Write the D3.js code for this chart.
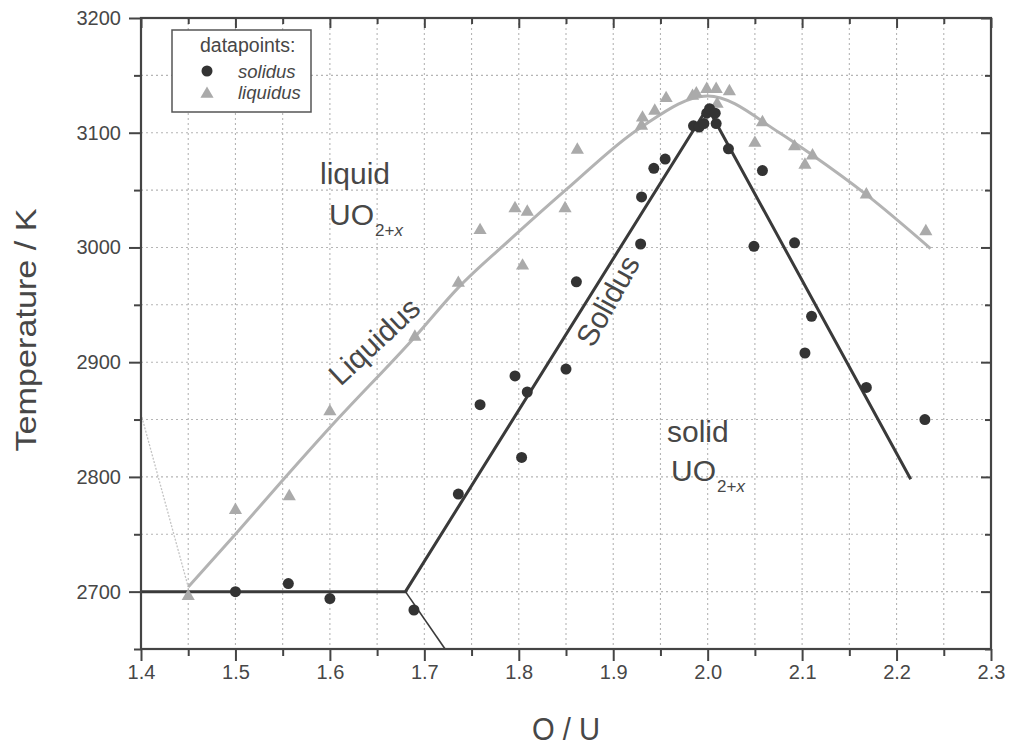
<!DOCTYPE html>
<html>
<head>
<meta charset="utf-8">
<script src="https://cdn.jsdelivr.net/npm/d3@7"></script>
<style>
  html, body { margin: 0; padding: 0; background: #fff; }
  svg { display: block; font-family: "Liberation Sans", Arial, sans-serif; }
</style>
</head>
<body>
<svg id="chart" width="1014" height="747"></svg>
<script>
// Axis ticks
const xMajorTicks = [1.4, 1.5, 1.6, 1.7, 1.8, 1.9, 2.0, 2.1, 2.2, 2.3];
const xMinorTicks = [1.45, 1.55, 1.65, 1.75, 1.85, 1.95, 2.05, 2.15, 2.25];
const yMajorTicks = [2700, 2800, 2900, 3000, 3100, 3200];
const yMinorTicks = [2650, 2750, 2850, 2950, 3050, 3150];

// Measured solidus temperatures (O/U, T in K)
const solidusOU = [1.5, 1.556, 1.6, 1.689, 1.736, 1.759, 1.796, 1.803, 1.809, 1.85,
  1.861, 1.929, 1.930, 1.943, 1.955, 1.985, 1.991, 1.996, 1.999, 2.002,
  2.008, 2.009, 2.022, 2.049, 2.058, 2.092, 2.103, 2.110, 2.168, 2.230];
const solidusT = [2700, 2707, 2694, 2684, 2785, 2863, 2888, 2817, 2874, 2894,
  2970, 3003, 3044, 3069, 3077, 3106, 3105, 3108, 3117, 3121,
  3117, 3108, 3086, 3001, 3067, 3004, 2908, 2940, 2878, 2850];

// Measured liquidus temperatures
const liquidusOU = [1.45, 1.5, 1.557, 1.6, 1.69, 1.736, 1.759, 1.796, 1.804, 1.809,
  1.849, 1.862, 1.930, 1.931, 1.944, 1.956, 1.984, 1.988, 1.999, 2.009,
  2.010, 2.023, 2.050, 2.058, 2.092, 2.103, 2.111, 2.168, 2.231];
const liquidusT = [2696, 2771, 2783, 2857, 2922, 2969, 3015, 3034, 2984, 3031,
  3034, 3085, 3106, 3113, 3119, 3130, 3132, 3134, 3138, 3138,
  3125, 3136, 3091, 3109, 3088, 3072, 3080, 3046, 3014];

// Assessed phase boundaries
const solidusLineOU = [1.4, 1.68, 2.0, 2.215];
const solidusLineT  = [2700, 2700, 3122, 2798];
const lowerBranchOU = [1.68, 1.722];
const lowerBranchT  = [2700, 2650];
const liquidusLineOU = [1.45, 1.5, 1.55, 1.6, 1.69, 1.736, 1.791, 1.851, 1.928, 2.0, 2.076, 2.11, 2.168, 2.236];
const liquidusLineT  = [2704, 2750, 2797, 2843, 2922, 2965, 3007, 3051, 3104, 3132, 3100, 3081, 3046, 2999];
const gapLineOU = [1.4, 1.45];
const gapLineT  = [2855, 2704];

const svg = d3.select("#chart");
const plotL = 141, plotR = 991, plotT = 18, plotB = 649;

const x = d3.scaleLinear().domain([1.4, 2.3]).range([plotL, plotR]);
const y = d3.scaleLinear().domain([2650, 3200]).range([plotB, plotT]);

const axisColor = "#444";
const textColor = "#474747";

// Dotted grid at major and minor ticks
const grid = svg.append("g").attr("stroke", "#b5b5b5").attr("stroke-width", 1.1)
  .attr("stroke-dasharray", "2,3");
grid.selectAll("line.v").data(xMajorTicks.concat(xMinorTicks).filter(d => d > 1.4 && d < 2.3))
  .join("line").attr("class", "v")
  .attr("x1", d => x(d)).attr("x2", d => x(d)).attr("y1", plotT).attr("y2", plotB);
grid.selectAll("line.h").data(yMajorTicks.concat(yMinorTicks).filter(d => d > 2650 && d < 3200))
  .join("line").attr("class", "h")
  .attr("y1", d => y(d)).attr("y2", d => y(d)).attr("x1", plotL).attr("x2", plotR);

// Phase boundary lines
const line = d3.line().x(d => x(d[0])).y(d => y(d[1]));
const curve = d3.line().x(d => x(d[0])).y(d => y(d[1])).curve(d3.curveMonotoneX);

svg.append("path").datum(gapLineOU.map((v, i) => [v, gapLineT[i]]))
  .attr("d", line).attr("fill", "none").attr("stroke", "#c4c4c4")
  .attr("stroke-width", 1.3).attr("stroke-dasharray", "2,1.5");

svg.append("path").datum(liquidusLineOU.map((v, i) => [v, liquidusLineT[i]]))
  .attr("d", curve).attr("fill", "none").attr("stroke", "#b3b3b3").attr("stroke-width", 3);

svg.append("path").datum(lowerBranchOU.map((v, i) => [v, lowerBranchT[i]]))
  .attr("d", line).attr("fill", "none").attr("stroke", "#3a3a3a").attr("stroke-width", 1.6);

svg.append("path").datum(solidusLineOU.map((v, i) => [v, solidusLineT[i]]))
  .attr("d", line).attr("fill", "none").attr("stroke", "#3a3a3a").attr("stroke-width", 3)
  .attr("stroke-linejoin", "miter");

// Data points
const tri = d3.symbol().type(d3.symbolTriangle).size(75);
svg.append("g").selectAll("path")
  .data(liquidusOU.map((v, i) => [v, liquidusT[i]]))
  .join("path")
  .attr("d", tri)
  .attr("transform", d => `translate(${x(d[0])},${y(d[1])})`)
  .attr("fill", "#aaaaaa");

svg.append("g").selectAll("circle")
  .data(solidusOU.map((v, i) => [v, solidusT[i]]))
  .join("circle")
  .attr("cx", d => x(d[0])).attr("cy", d => y(d[1])).attr("r", 5.5)
  .attr("fill", "#333");

// Axes
function styleAxis(g) {
  g.select(".domain").remove();
  g.selectAll(".tick line").attr("stroke", axisColor).attr("stroke-width", 2);
  g.selectAll(".tick text").attr("fill", textColor).attr("font-size", 20)
    .attr("font-family", "'Liberation Sans', Arial, sans-serif");
}
const fmtX = d3.format(".1f");
const fmtY = d3.format("d");

svg.append("g").attr("transform", `translate(0,${plotB})`)
  .call(d3.axisBottom(x).tickValues(xMajorTicks).tickSize(12).tickPadding(4).tickFormat(fmtX))
  .call(styleAxis);
svg.append("g").attr("transform", `translate(0,${plotB})`)
  .call(d3.axisBottom(x).tickValues(xMinorTicks).tickSize(7).tickFormat(""))
  .call(styleAxis);
svg.append("g").attr("transform", `translate(${plotL},0)`)
  .call(d3.axisLeft(y).tickValues(yMajorTicks).tickSize(12).tickPadding(8).tickFormat(fmtY))
  .call(styleAxis);
svg.append("g").attr("transform", `translate(${plotL},0)`)
  .call(d3.axisLeft(y).tickValues(yMinorTicks).tickSize(7).tickFormat(""))
  .call(styleAxis);
// Inward ticks on the top and right edges
svg.append("g").attr("transform", `translate(0,${plotT})`)
  .call(d3.axisTop(x).tickValues(xMajorTicks).tickSize(-10).tickFormat(""))
  .call(styleAxis);
svg.append("g").attr("transform", `translate(0,${plotT})`)
  .call(d3.axisTop(x).tickValues(xMinorTicks).tickSize(-6).tickFormat(""))
  .call(styleAxis);
svg.append("g").attr("transform", `translate(${plotR},0)`)
  .call(d3.axisRight(y).tickValues(yMajorTicks).tickSize(-10).tickFormat(""))
  .call(styleAxis);
svg.append("g").attr("transform", `translate(${plotR},0)`)
  .call(d3.axisRight(y).tickValues(yMinorTicks).tickSize(-6).tickFormat(""))
  .call(styleAxis);

// Frame
svg.append("rect").attr("x", plotL).attr("y", plotT)
  .attr("width", plotR - plotL).attr("height", plotB - plotT)
  .attr("fill", "none").attr("stroke", axisColor).attr("stroke-width", 2.2);

// Axis titles
svg.append("text").attr("x", 566).attr("y", 740)
  .attr("text-anchor", "middle").attr("font-size", 31).attr("fill", textColor)
  .attr("textLength", 68).attr("lengthAdjust", "spacingAndGlyphs")
  .text("O / U");
svg.append("text").attr("transform", "translate(36,330) rotate(-90)")
  .attr("text-anchor", "middle").attr("font-size", 30).attr("fill", textColor)
  .attr("textLength", 243).attr("lengthAdjust", "spacingAndGlyphs")
  .text("Temperature / K");

// Region labels
function phaseLabel(wx, wy, word, ux, uy) {
  const g = svg.append("g").attr("fill", textColor);
  g.append("text").attr("x", wx).attr("y", wy).attr("font-size", 30).text(word);
  const t = g.append("text").attr("x", ux).attr("y", uy).attr("font-size", 30);
  t.append("tspan").text("UO");
  t.append("tspan").attr("font-size", 17).attr("dy", 11).attr("dx", 1).text("2+");
  t.append("tspan").attr("font-size", 17).attr("font-style", "italic").text("x");
}
phaseLabel(320, 184, "liquid", 329, 225);
phaseLabel(667, 442, "solid", 671, 481);

svg.append("text").attr("transform", "translate(376,343) rotate(-43)")
  .attr("text-anchor", "middle").attr("dominant-baseline", "middle")
  .attr("font-size", 30).attr("fill", textColor).text("Liquidus");
svg.append("text").attr("transform", "translate(610,302) rotate(-61)")
  .attr("text-anchor", "middle").attr("dominant-baseline", "middle")
  .attr("font-size", 30).attr("fill", textColor).text("Solidus");

// Legend
const lg = svg.append("g");
lg.append("rect").attr("x", 172).attr("y", 30).attr("width", 139).attr("height", 82)
  .attr("fill", "#fff").attr("stroke", "#555").attr("stroke-width", 1.5);
lg.append("text").attr("x", 200).attr("y", 52).attr("font-size", 19.5).attr("fill", textColor)
  .text("datapoints:");
lg.append("circle").attr("cx", 207).attr("cy", 71).attr("r", 5.5).attr("fill", "#333");
lg.append("text").attr("x", 238).attr("y", 78).attr("font-size", 18.5).attr("font-style", "italic")
  .attr("fill", textColor).text("solidus");
lg.append("path").attr("d", tri).attr("transform", "translate(207,94)").attr("fill", "#aaaaaa");
lg.append("text").attr("x", 238).attr("y", 99).attr("font-size", 18.5).attr("font-style", "italic")
  .attr("fill", textColor).text("liquidus");
</script>
</body>
</html>
